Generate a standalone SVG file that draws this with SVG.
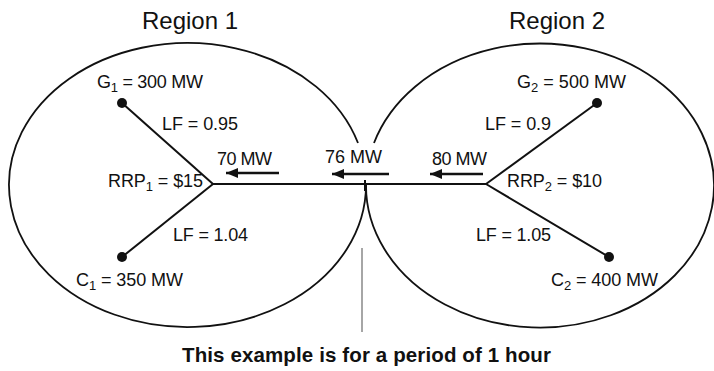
<svg xmlns="http://www.w3.org/2000/svg" width="714" height="371" viewBox="0 0 714 371">
<style>
text{font-family:"Liberation Sans",Arial,sans-serif;fill:#111;font-size:18px}
.title{font-size:24px}
.note{font-size:20.5px;font-weight:bold}
.sub{font-size:13px}
.region{fill:none;stroke:#111;stroke-width:1.8}
.wire{stroke:#111;stroke-width:2;fill:none}
.flow{stroke:#111;stroke-width:2.5;marker-end:url(#ah)}
.dot{fill:#111}
</style>
<defs>
<marker id="ah" markerUnits="userSpaceOnUse" markerWidth="13" markerHeight="10" refX="12" refY="5" orient="auto">
<path d="M0,0 L12,5 L0,10 z" fill="#111"/>
</marker>
</defs>
<rect width="714" height="371" fill="#fff"/>
<g id="region1">
<path class="region" d="M 358 143 A 178.5 142 0 1 0 366 185"/>
<text class="title" x="142" y="29" textLength="96" lengthAdjust="spacing">Region 1</text>
</g>
<g id="region2">
<path class="region" d="M 374 143 A 174 142 0 1 1 366 185"/>
<text class="title" x="509" y="29" textLength="96" lengthAdjust="spacing">Region 2</text>
</g>
<g id="connectors">
<line class="wire" x1="122" y1="103" x2="213" y2="184"/>
<line class="wire" x1="122" y1="257" x2="213" y2="184"/>
<line class="wire" x1="213" y1="184" x2="486" y2="184"/>
<line class="wire" x1="597" y1="103" x2="486" y2="184"/>
<line class="wire" x1="609" y1="257" x2="486" y2="184"/>
<line class="wire" x1="365" y1="180" x2="365" y2="191"/>
<line class="flow" x1="279" y1="173" x2="226" y2="173"/>
<line class="flow" x1="389" y1="174" x2="332" y2="174"/>
<line class="flow" x1="483" y1="174" x2="430" y2="174"/>
<line x1="362" y1="248" x2="362" y2="332" stroke="#888" stroke-width="1.5"/>
</g>
<g id="g1">
<circle class="dot" cx="122" cy="103" r="5"/>
<text x="97" y="88" textLength="106" lengthAdjust="spacing">G<tspan class="sub" dy="4">1</tspan><tspan dy="-4"> = 300 MW</tspan></text>
<text x="162" y="130" textLength="76" lengthAdjust="spacing">LF = 0.95</text>
</g>
<g id="c1">
<circle class="dot" cx="122" cy="257" r="5"/>
<text x="76" y="286" textLength="107" lengthAdjust="spacing">C<tspan class="sub" dy="4">1</tspan><tspan dy="-4"> = 350 MW</tspan></text>
<text x="173" y="241" textLength="75" lengthAdjust="spacing">LF = 1.04</text>
</g>
<g id="rrp1">
<text x="108" y="187" textLength="95" lengthAdjust="spacing">RRP<tspan class="sub" dy="4">1</tspan><tspan dy="-4"> = $15</tspan></text>
</g>
<g id="g2">
<circle class="dot" cx="597" cy="103" r="5"/>
<text x="517" y="88" textLength="109" lengthAdjust="spacing">G<tspan class="sub" dy="4">2</tspan><tspan dy="-4"> = 500 MW</tspan></text>
<text x="485" y="130" textLength="66" lengthAdjust="spacing">LF = 0.9</text>
</g>
<g id="c2">
<circle class="dot" cx="609" cy="257" r="5"/>
<text x="551" y="286" textLength="107" lengthAdjust="spacing">C<tspan class="sub" dy="4">2</tspan><tspan dy="-4"> = 400 MW</tspan></text>
<text x="476" y="241" textLength="75" lengthAdjust="spacing">LF = 1.05</text>
</g>
<g id="rrp2">
<text x="507" y="187" textLength="95" lengthAdjust="spacing">RRP<tspan class="sub" dy="4">2</tspan><tspan dy="-4"> = $10</tspan></text>
</g>
<g id="flows">
<text x="217" y="165" textLength="55" lengthAdjust="spacing">70 MW</text>
<text x="325" y="163" textLength="57" lengthAdjust="spacing">76 MW</text>
<text x="432" y="165" textLength="55" lengthAdjust="spacing">80 MW</text>
</g>
<g id="note">
<text class="note" x="182" y="362" textLength="369" lengthAdjust="spacing">This example is for a period of 1 hour</text>
</g>
</svg>
